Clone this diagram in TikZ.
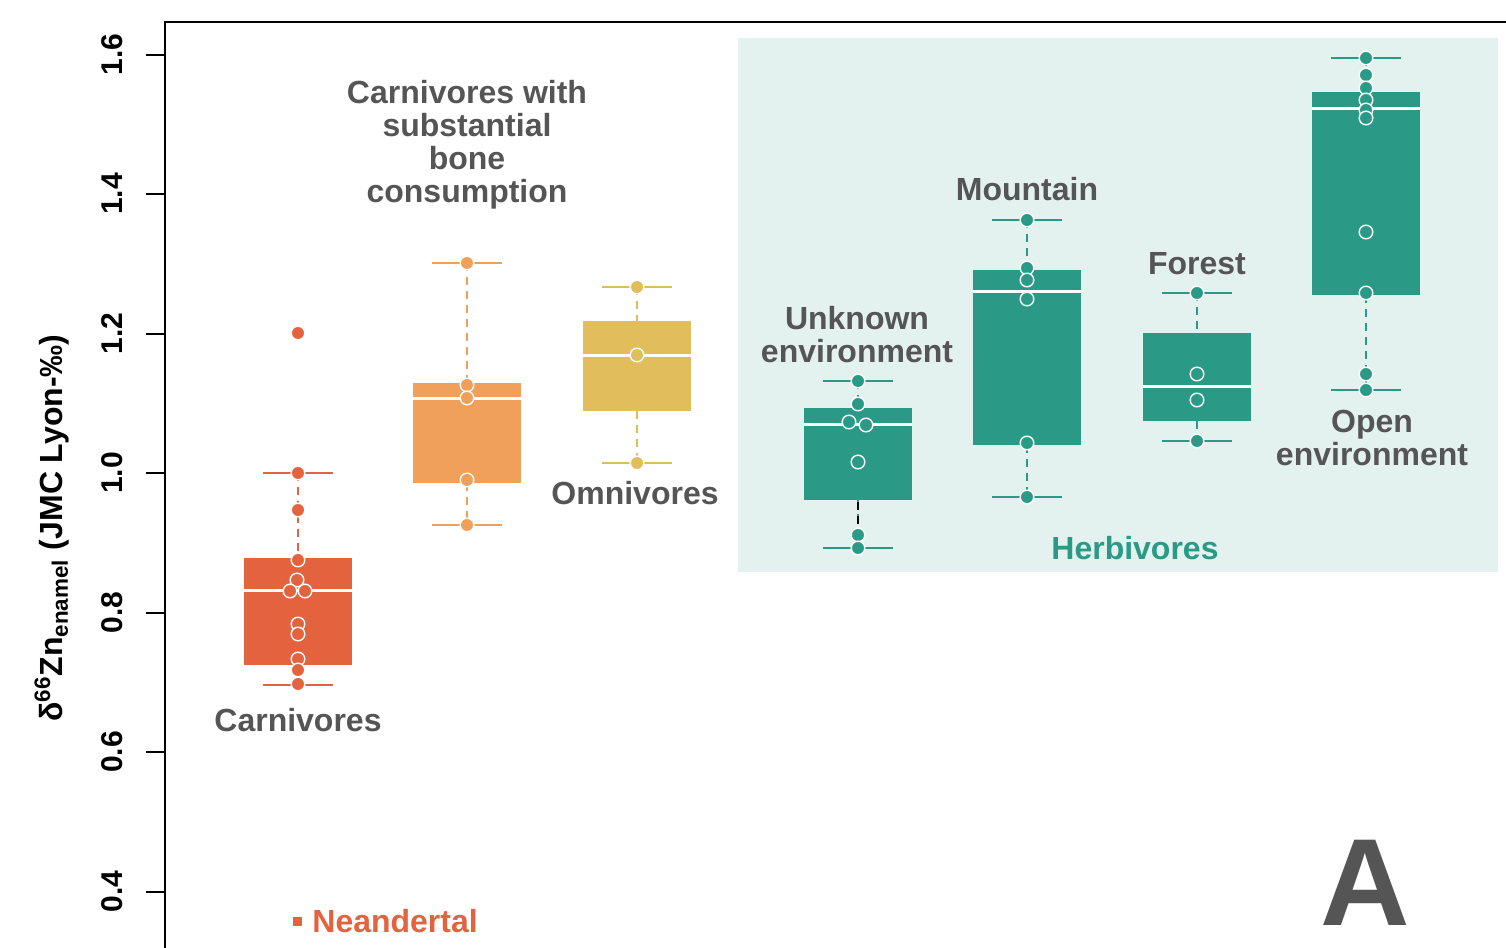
\documentclass[tikz,border=0pt]{standalone}
\usepackage{fontspec}
\setmainfont{Liberation Sans}

\definecolor{carn}{HTML}{E4633F}
\definecolor{bone}{HTML}{F0A05A}
\definecolor{omni}{HTML}{E2BD5C}
\definecolor{herb}{HTML}{2A9A86}
\definecolor{herbbg}{HTML}{E4F2EF}
\definecolor{labelgrey}{HTML}{555555}

\tikzset{
  whisk/.style={line width=0.7pt, dash pattern=on 4pt off 3pt},
  capline/.style={line width=0.8pt},
  datapt/.style={line width=0.7pt, draw=white},
  grplabel/.style={font=\fontsize{16}{16.5}\selectfont\bfseries, text=labelgrey, align=center, inner sep=0pt},
  ticklabel/.style={font=\fontsize{15}{15}\selectfont\bfseries, rotate=90, inner sep=0pt},
  axisline/.style={line width=1pt, black},
}

% box plot: colour, centre x, half width, box top, box bottom, median,
% upper cap, lower cap, list of points x/y
\newcommand{\zbox}[9]{%
  \draw[whisk,#1] (#2,#7) -- (#2,#4);
  \draw[whisk,#1] (#2,#5) -- (#2,#8);
  \draw[capline,#1] (#2-35,#7) -- (#2+35,#7);
  \draw[capline,#1] (#2-35,#8) -- (#2+35,#8);
  \fill[#1] (#2-#3,#4) rectangle (#2+#3,#5);
  \draw[white,line width=1.5pt] (#2-#3,#6) -- (#2+#3,#6);
  \foreach \px/\py in {#9} \filldraw[datapt,fill=#1] (\px,\py) circle (3.4pt);
}

\begin{document}
\begin{tikzpicture}[x=0.5pt,y=-0.5pt]
\useasboundingbox (0,0) rectangle (1506,948);

% herbivore panel
\fill[herbbg] (738,38) rectangle (1498,572);

% axes
\draw[axisline] (165,948) -- (165,22) -- (1506,22);
\foreach \yy/\lab in {54.5/1.6, 194/1.4, 333.5/1.2, 473/1.0, 612.5/0.8, 752/0.6, 891.5/0.4} {
  \draw[axisline] (146,\yy) -- (165,\yy);
  \node[ticklabel] at (112,\yy) {\lab};
}
\node[rotate=90, font=\fontsize{16}{16}\selectfont\bfseries, inner sep=0pt] (ytitle) at (52,528)
  {δ\textsuperscript{66}Zn\textsubscript{enamel} (JMC Lyon-‰)};

% carnivores
\zbox{carn}{298}{54}{558}{665}{590}{473}{685}%
  {298/333, 298/473, 298/510, 298/560, 297/580, 290/591, 305/591, 298/624, 298/634, 298/659, 298/670, 298/684}
% carnivores with substantial bone consumption
\zbox{bone}{467}{54}{383}{483}{398}{263}{525}%
  {467/263, 467/385, 467/398, 467/480, 467/525}
% omnivores
\zbox{omni}{637}{54}{321}{411}{355}{287}{463}%
  {637/287, 637/355, 637/463}
% herbivores: unknown environment
\zbox{herb}{858}{54}{408}{500}{424}{381}{548}%
  {858/381, 858/404, 849/422, 866/425, 858/462, 858/535, 858/548}
\draw[whisk,black] (858,502) -- (858,528);
% herbivores: mountain
\zbox{herb}{1027}{54}{270}{445}{291}{220}{497}%
  {1027/220, 1027/268, 1027/280, 1027/299, 1027/443, 1027/497}
% herbivores: forest
\zbox{herb}{1197}{54}{333}{421}{386}{293}{441}%
  {1197/293, 1197/374, 1197/400, 1197/441}
% herbivores: open environment
\zbox{herb}{1366}{54}{92}{295}{108}{58}{390}%
  {1366/58, 1366/75, 1366/88, 1366/100, 1366/110, 1366/118, 1366/232, 1366/293, 1366/374, 1366/390}

% group labels
\node[grplabel] (lcarn) at (298,720) {Carnivores};
\node[grplabel] (lbone) at (467,145)
  {Carnivores with\\substantial\\bone\\consumption};
\node[grplabel] (lomni) at (635,493) {Omnivores};
\node[grplabel] (lunk) at (857,335) {Unknown\\environment};
\node[grplabel] (lmount) at (1027,189) {Mountain};
\node[grplabel] (lforest) at (1197,264) {Forest};
\node[grplabel] (lopen) at (1372,438) {Open\\environment};
\node[grplabel, text=herb] (lherb) at (1135,548) {Herbivores};

% legend
\fill[carn] (293,917) rectangle (302,926);
\node[grplabel, text=carn, anchor=west] (lnea) at (312,921) {Neandertal};

% panel letter
\node[font=\fontsize{62}{62}\selectfont\bfseries, text=labelgrey, inner sep=0pt] (panel) at (1365,883) {A};
\end{tikzpicture}
\end{document}
